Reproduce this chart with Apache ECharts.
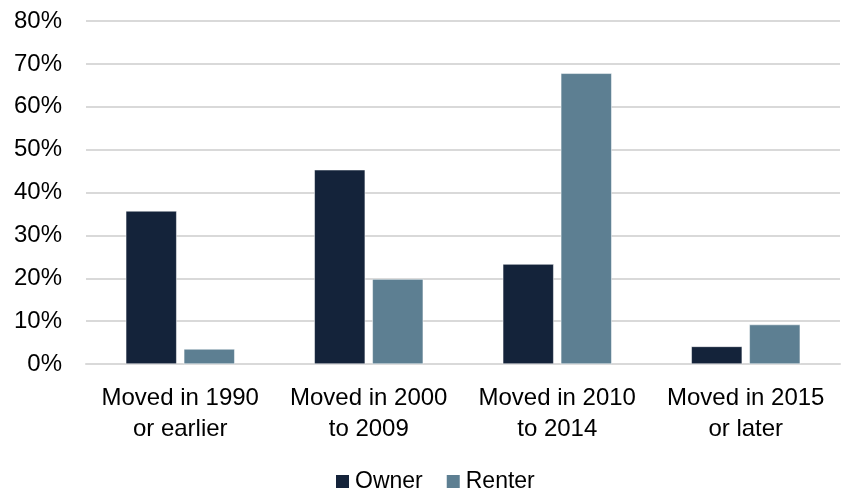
<!DOCTYPE html>
<html>
<head>
<meta charset="utf-8">
<script src="https://cdn.jsdelivr.net/npm/echarts@6/dist/echarts.min.js"></script>
<style>
html,body{margin:0;padding:0;background:#fff;}
#chart{width:844px;height:496px;}
</style>
</head>
<body>
<div id="chart"></div>
<script>
var categories = ["Moved in 1990\nor earlier", "Moved in 2000\nto 2009", "Moved in 2010\nto 2014", "Moved in 2015\nor later"];
var ownerValues = [35.7, 45.3, 23.3, 4.1];
var renterValues = [3.5, 19.8, 67.8, 9.2];
var seriesNames = ["Owner", "Renter"];

var chart = echarts.init(document.getElementById('chart'), null, {renderer: 'canvas'});
var font = "'Liberation Sans', Arial, sans-serif";
chart.setOption({
  animation: false,
  backgroundColor: '#ffffff',
  grid: {left: 86, right: 4, top: 21, bottom: 132, containLabel: false},
  legend: {
    data: seriesNames,
    top: 470,
    left: 334,
    padding: 0,
    itemWidth: 15,
    itemHeight: 15,
    itemGap: 22,
    icon: 'rect',
    textStyle: {fontFamily: font, fontSize: 23, color: '#000'}
  },
  xAxis: {
    type: 'category',
    data: categories,
    axisLine: {show: true, lineStyle: {color: '#d9d9d9', width: 2}},
    axisTick: {show: false},
    axisLabel: {fontFamily: font, fontSize: 24, color: '#000', lineHeight: 31, margin: 19, interval: 0}
  },
  yAxis: {
    type: 'value',
    min: 0,
    max: 80,
    interval: 10,
    axisLine: {show: false},
    axisTick: {show: false},
    splitLine: {lineStyle: {color: '#d9d9d9', width: 2}},
    axisLabel: {fontFamily: font, fontSize: 24, color: '#000', margin: 24, formatter: '{value}%'}
  },
  series: [
    {
      name: seriesNames[0],
      type: 'bar',
      data: ownerValues,
      barWidth: '27%',
      barGap: '14%',
      itemStyle: {color: '#14233A', borderColor: '#ffffff', borderWidth: 0.5}
    },
    {
      name: seriesNames[1],
      type: 'bar',
      data: renterValues,
      barWidth: '27%',
      itemStyle: {color: '#5D7F92', borderColor: '#ffffff', borderWidth: 0.5}
    }
  ]
});
</script>
</body>
</html>
